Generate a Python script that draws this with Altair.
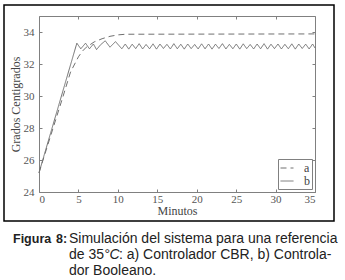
import altair as alt
import pandas as pd

# Serie a: controlador CBR (línea discontinua)
a_t = [0, 3, 4, 5, 5.5, 6, 7, 8, 9, 10, 11, 35]
a_v = [25.2, 29.9, 31.5, 32.45, 32.8, 33.05, 33.38, 33.58, 33.73, 33.82, 33.86, 33.88]

# Serie b: controlador booleano (línea continua)
b_t = [0, 4.8, 5.3, 5.9, 6.4, 6.9, 7.3, 7.8, 8.4, 9.0, 9.7,
       10.5, 10.94, 11.38, 11.82, 12.26, 12.7, 13.14, 13.58, 14.02, 14.46,
       14.9, 15.34, 15.78, 16.22, 16.66, 17.1, 17.54, 17.98, 18.42, 18.86,
       19.3, 19.74, 20.18, 20.62, 21.06, 21.5, 21.94, 22.38, 22.82, 23.26,
       23.7, 24.14, 24.58, 25.02, 25.46, 25.9, 26.34, 26.78, 27.22, 27.66,
       28.1, 28.54, 28.98, 29.42, 29.86, 30.3, 30.74, 31.18, 31.62, 32.06,
       32.5, 32.94, 33.38, 33.82, 34.26, 34.7, 35.0]
b_v = [25.2, 33.3, 32.95, 33.3, 32.95, 33.25, 32.9, 33.2, 33.45, 33.05, 33.4,
       32.95, 33.25, 32.93, 33.24, 32.96, 33.27, 32.94, 33.22, 32.95, 33.26,
       32.93, 33.25, 32.97, 33.23, 32.94, 33.27, 32.95, 33.24, 32.93, 33.25,
       32.96, 33.22, 32.94, 33.26, 32.95, 33.25, 32.93, 33.24, 32.97, 33.27,
       32.94, 33.23, 32.95, 33.25, 32.93, 33.26, 32.96, 33.22, 32.94, 33.25,
       32.95, 33.27, 32.93, 33.24, 32.96, 33.25, 32.94, 33.23, 32.95, 33.26,
       32.93, 33.25, 32.97, 33.24, 32.94, 33.25, 33.0]

series = ["a", "b"]
x_ticks = [0, 5, 10, 15, 20, 25, 30, 35]
y_ticks = [24, 26, 28, 30, 32, 34]

caption_bold_1 = "Figura"
caption_bold_2 = "8:"
caption_1 = "Simulación del sistema para una referencia"
caption_2a = "de 35"
caption_2b = "°C"
caption_2c = ": a) Controlador CBR, b) Controla-"
caption_3 = "dor Booleano."

df = pd.DataFrame({
    "t": a_t + b_t,
    "v": a_v + b_v,
    "serie": [series[0]] * len(a_t) + [series[1]] * len(b_t),
})

SERIF = "Liberation Serif"
SANS = "Liberation Sans"
GRAY = "#707070"
FRAME = "#808080"

x_scale = alt.Scale(domain=[0, 35], nice=False, zero=False)
y_scale = alt.Scale(domain=[24, 35], nice=False, zero=False)

axis_common = dict(
    grid=False, domain=False, offset=-3, tickSize=3, tickColor=FRAME,
    labelFont=SERIF, labelFontSize=11, labelColor="#555",
    titleFont=SERIF, titleFontSize=12, titleFontWeight="normal", titleColor="#444",
)

x_axis = alt.Axis(values=x_ticks, orient="bottom", labelPadding=1, title="Minutos",
                  titleY=21, titleBaseline="middle", **axis_common)
y_axis = alt.Axis(values=y_ticks, orient="left", labelPadding=5, title="Grados Centigrados",
                  titleX=-27, titleBaseline="middle", **axis_common)

lines = alt.Chart(df).mark_line(color=GRAY, strokeWidth=1).encode(
    x=alt.X("t:Q", scale=x_scale, axis=x_axis),
    y=alt.Y("v:Q", scale=y_scale, axis=y_axis),
    strokeDash=alt.StrokeDash(
        "serie:N",
        scale=alt.Scale(domain=series, range=[[6, 4], [1, 0]]),
        legend=alt.Legend(
            title=None, orient="bottom-right", offset=3,
            strokeColor=FRAME, fillColor="white", padding=2, cornerRadius=0,
            symbolType="stroke", symbolSize=169, symbolStrokeWidth=1,
            symbolStrokeColor=GRAY, labelFont=SERIF, labelFontSize=12,
            labelColor="#444", labelOffset=10, rowPadding=0,
        ),
    ),
)

# Marcas de escala en los lados superior y derecho
mirror_common = dict(grid=False, domain=False, offset=-3, tickSize=3, tickColor=FRAME,
                     labels=False, title=None)
mirror = alt.Chart(df).mark_line(opacity=0).encode(
    x=alt.X("t:Q", scale=x_scale, axis=alt.Axis(values=x_ticks, orient="top", **mirror_common)),
    y=alt.Y("v:Q", scale=y_scale, axis=alt.Axis(values=y_ticks, orient="right", **mirror_common)),
    detail="serie:N",
)

one = pd.DataFrame({"k": [0]})

border = alt.Chart(one).mark_rect(fill="transparent", stroke="black", strokeWidth=1.5).encode(
    x=alt.value(-35), x2=alt.value(295), y=alt.value(-11), y2=alt.value(205)
)


def text_line(txt, x, y, weight="normal", style="normal", size=14):
    return alt.Chart(one).mark_text(
        align="left", baseline="alphabetic", font=SANS, fontSize=size,
        fontWeight=weight, fontStyle=style, color="#222",
    ).encode(x=alt.value(x), y=alt.value(y), text=alt.value(txt))


captions = [
    text_line(caption_bold_1, -26, 227, weight="bold", size=12.5),
    text_line(caption_bold_2, 17, 227, weight="bold", size=12.5),
    text_line(caption_1, 30, 227),
    text_line(caption_2a, 30, 243),
    text_line(caption_2b, 65, 243, style="italic"),
    text_line(caption_2c, 80, 243),
    text_line(caption_3, 30, 259),
]

chart = alt.layer(border, lines, mirror, *captions).resolve_axis(
    x="independent", y="independent"
).properties(
    width=276, height=176,
    autosize=alt.AutoSizeParams(type="none"),
    padding={"left": 39, "top": 16, "right": 30, "bottom": 88},
    background="white",
).configure_view(stroke=FRAME, strokeWidth=1)

chart.save("out.html", embed_options={"renderer": "svg", "actions": False})
